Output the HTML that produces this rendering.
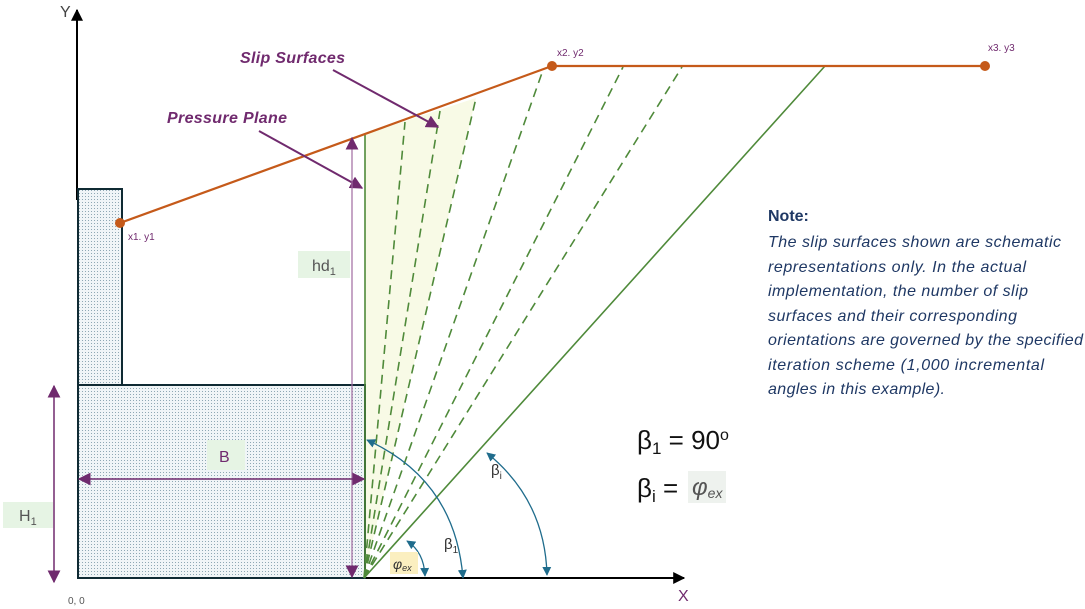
<!DOCTYPE html>
<html><head><meta charset="utf-8"><style>
html,body{margin:0;padding:0;background:#fff;width:1085px;height:609px;overflow:hidden}
svg{display:block}
text{font-family:"Liberation Sans",sans-serif}
</style></head><body>
<svg width="1085" height="609" viewBox="0 0 1085 609" xmlns="http://www.w3.org/2000/svg">
<defs>
<pattern id="dots" width="3" height="3" patternUnits="userSpaceOnUse">
<rect width="3" height="3" fill="#f0f5f7"/>
<rect x="1" y="1" width="1" height="1" fill="#8fa8b4"/>
</pattern>
<marker id="ap" viewBox="0 0 10 10" refX="9" refY="5" markerWidth="8" markerHeight="8" markerUnits="userSpaceOnUse" orient="auto-start-reverse"><path d="M0,0 L10,5 L0,10 z" fill="#702a6e"/></marker>
<marker id="ap2" viewBox="0 0 10 10" refX="9" refY="5" markerWidth="13" markerHeight="13" markerUnits="userSpaceOnUse" orient="auto-start-reverse"><path d="M0,0 L10,5 L0,10 z" fill="#702a6e"/></marker>
<marker id="at" viewBox="0 0 10 10" refX="9" refY="5" markerWidth="9" markerHeight="9" markerUnits="userSpaceOnUse" orient="auto-start-reverse"><path d="M0,0 L10,5 L0,10 z" fill="#1f6c8c"/></marker>
<marker id="ak" viewBox="0 0 10 10" refX="9" refY="5" markerWidth="12" markerHeight="12" markerUnits="userSpaceOnUse" orient="auto"><path d="M0,0 L10,5 L0,10 z" fill="#000"/></marker>
</defs>

<polygon points="364,578 365,134 476,98" fill="#f8fae6"/>

<line x1="77" y1="200" x2="77" y2="10" stroke="#000" stroke-width="2" marker-end="url(#ak)"/>
<text x="60" y="17" font-size="16" fill="#444">Y</text>
<line x1="363" y1="578" x2="684" y2="578" stroke="#000" stroke-width="2" marker-end="url(#ak)"/>
<text x="678" y="601" font-size="16" fill="#702a6e">X</text>
<text x="68" y="604" font-size="10" fill="#555">0, 0</text>

<rect x="78" y="189" width="44" height="196" fill="url(#dots)" stroke="#0f2a33" stroke-width="2"/>
<rect x="78" y="385" width="287" height="193" fill="url(#dots)" stroke="#0f2a33" stroke-width="2"/>

<g stroke="#4f8a3a" stroke-width="1.6" fill="none">
<line x1="365" y1="578" x2="365" y2="135"/>
<line x1="364" y1="578" x2="825" y2="66"/>
<g stroke-dasharray="9,6">
<line x1="364" y1="578" x2="405" y2="122"/>
<line x1="364" y1="578" x2="440" y2="111"/>
<line x1="364" y1="578" x2="476" y2="98"/>
<line x1="364" y1="578" x2="543" y2="70"/>
<line x1="364" y1="578" x2="623" y2="67"/>
<line x1="364" y1="578" x2="682" y2="67"/>
</g>
</g>

<polyline points="120,223 552,66 985,66" fill="none" stroke="#c55a1a" stroke-width="2.2"/>
<circle cx="120" cy="223" r="5" fill="#c55a1a"/>
<circle cx="552" cy="66" r="5" fill="#c55a1a"/>
<circle cx="985" cy="66" r="5" fill="#c55a1a"/>
<text x="128" y="240" font-size="10" fill="#702a6e">x1. y1</text>
<text x="557" y="56" font-size="10" fill="#702a6e">x2. y2</text>
<text x="988" y="51" font-size="10" fill="#702a6e">x3. y3</text>

<text x="240" y="63" font-size="16" font-style="italic" font-weight="bold" fill="#702a6e" textLength="105">Slip Surfaces</text>
<line x1="333" y1="70" x2="438" y2="127" stroke="#702a6e" stroke-width="2" marker-end="url(#ap2)"/>
<text x="167" y="123" font-size="16" font-style="italic" font-weight="bold" fill="#702a6e" textLength="120">Pressure Plane</text>
<line x1="259" y1="131" x2="362" y2="188" stroke="#702a6e" stroke-width="2" marker-end="url(#ap2)"/>

<line x1="352" y1="577" x2="352" y2="138" stroke="#a06aa0" stroke-width="1.2" marker-start="url(#ap2)" marker-end="url(#ap2)"/>
<rect x="298" y="251" width="52" height="27" fill="#e6f4e4"/>
<text x="312" y="271" font-size="16" fill="#555">hd<tspan font-size="11" dy="4">1</tspan></text>

<line x1="79" y1="479" x2="364" y2="479" stroke="#702a6e" stroke-width="1.5" marker-start="url(#ap2)" marker-end="url(#ap2)"/>
<rect x="207" y="440" width="38" height="30" fill="#e6f4e4"/>
<text x="219" y="462" font-size="16" fill="#702a6e">B</text>

<line x1="54" y1="386" x2="54" y2="582" stroke="#702a6e" stroke-width="1.5" marker-start="url(#ap2)" marker-end="url(#ap2)"/>
<rect x="3" y="502" width="50" height="26" fill="#e6f4e4"/>
<text x="19" y="521" font-size="16" fill="#555">H<tspan font-size="11" dy="4">1</tspan></text>

<g stroke="#1f6c8c" stroke-width="1.3" fill="none">
<path d="M367,440 Q455,480 463,578" marker-start="url(#at)" marker-end="url(#at)"/>
<path d="M487,453 Q545,500 547,575" marker-start="url(#at)" marker-end="url(#at)"/>
<path d="M407,541 Q424,552 425,576" marker-start="url(#at)" marker-end="url(#at)"/>
</g>
<rect x="390" y="552" width="28" height="22" fill="#fbefc0"/>
<text x="393" y="569" font-size="14" font-style="italic" font-family="Liberation Serif" fill="#333">φ<tspan font-size="9" dy="2">ex</tspan></text>
<text x="444" y="549" font-size="15" fill="#333">β<tspan font-size="10" dy="4">1</tspan></text>
<text x="491" y="475" font-size="15" fill="#333">β<tspan font-size="10" dy="4">i</tspan></text>

<text x="637" y="449" font-size="26" fill="#111">β<tspan font-size="17" dy="5">1</tspan><tspan dy="-5"> = 90</tspan><tspan font-size="16" dy="-9">o</tspan></text>
<text x="637" y="497" font-size="26" fill="#111">β<tspan font-size="17" dy="5">i</tspan><tspan dy="-5"> = </tspan></text>
<rect x="688" y="471" width="38" height="32" fill="#eef2ee"/>
<text x="692" y="495" font-size="24" font-style="italic" font-family="Liberation Serif" fill="#555">φ<tspan font-size="14" dy="3">ex</tspan></text>

<g fill="#1f3864" font-size="16">
<text x="768" y="221" font-weight="bold">Note:</text>
<g font-style="italic">
<text x="768" y="247" textLength="293">The slip surfaces shown are schematic</text>
<text x="768" y="272" textLength="258">representations only. In the actual</text>
<text x="768" y="296" textLength="260">implementation, the number of slip</text>
<text x="768" y="321" textLength="249">surfaces and their corresponding</text>
<text x="768" y="345" textLength="315">orientations are governed by the specified</text>
<text x="768" y="370" textLength="276">iteration scheme (1,000 incremental</text>
<text x="768" y="394" textLength="177">angles in this example).</text>
</g>
</g>
</svg>
</body></html>
